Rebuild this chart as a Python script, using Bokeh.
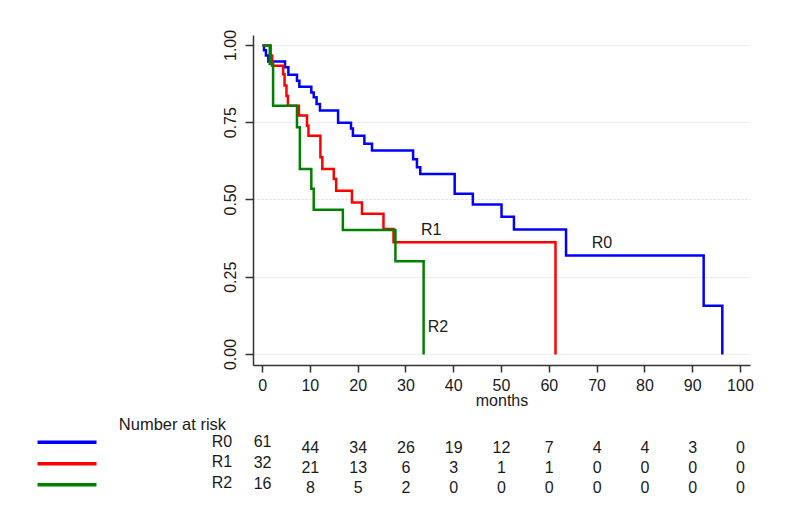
from bokeh.plotting import figure
from bokeh.layouts import column
from bokeh.models import Range1d, FixedTicker, PrintfTickFormatter
from bokeh.core.properties import value
from bokeh.embed import file_html
from bokeh.resources import INLINE

# Kaplan-Meier step curves (time in months, survival probability)
r0_t = [0, 0.3, 0.7, 1.2, 4.7, 5.4, 7.2, 7.7, 10.2, 10.7, 11.3, 12.0, 15.8, 18.5, 18.9,
        21.3, 22.9, 31.5, 32.3, 33.0, 40.2, 44.0, 50.0, 52.6, 63.5, 92.3, 96.2]
r0_s = [1.0, 0.984, 0.967, 0.948, 0.929, 0.905, 0.886, 0.866, 0.848, 0.832, 0.810, 0.789,
        0.750, 0.731, 0.708, 0.682, 0.660, 0.632, 0.606, 0.584, 0.520, 0.485, 0.446, 0.404,
        0.320, 0.158, 0.0]

r1_t = [0, 1.7, 2.0, 4.3, 4.6, 5.0, 5.3, 7.6, 9.3, 9.6, 12.1, 12.5, 14.9, 15.4, 18.7,
        20.8, 25.3, 27.4, 61.3]
r1_s = [1.0, 0.967, 0.934, 0.907, 0.870, 0.836, 0.805, 0.773, 0.740, 0.708, 0.638, 0.600,
        0.568, 0.530, 0.492, 0.455, 0.406, 0.363, 0.0]

r2_t = [0, 1.5, 2.2, 7.2, 7.8, 10.2, 10.7, 16.8, 27.8, 33.7]
r2_s = [1.0, 0.940, 0.805, 0.735, 0.600, 0.536, 0.468, 0.403, 0.302, 0.0]

# curve labels
curve_names = ["R0", "R1", "R2"]
curve_label_x = [71.0, 35.3, 36.7]
curve_label_y = [0.361, 0.403, 0.092]

# axis ticks
x_ticks = [0, 10, 20, 30, 40, 50, 60, 70, 80, 90, 100]
y_ticks = [0.0, 0.25, 0.5, 0.75, 1.0]

# number at risk table
risk_times = [0, 10, 20, 30, 40, 50, 60, 70, 80, 90, 100]
risk_r0 = [61, 44, 34, 26, 19, 12, 7, 4, 4, 3, 0]
risk_r1 = [32, 21, 13, 6, 3, 1, 1, 0, 0, 0, 0]
risk_r2 = [16, 8, 5, 2, 0, 0, 0, 0, 0, 0, 0]

colors = ["#0000ff", "#ff0000", "#008000"]
FONT = "Liberation Sans"
TXT = "#1a1a1a"

# ---- geometry (pixels) ----
W = 784
TOP_H = 412
BOT_H = 97
BL, BR, BT, BB = 253, 34, 35, 47
X0, X1 = -1.9, 102.1
Y0, Y1 = -0.0356, 1.032

p = figure(width=W, height=TOP_H, output_backend="svg", toolbar_location=None,
           x_range=Range1d(X0, X1), y_range=Range1d(Y0, Y1), frame_align=False,
           min_border_left=BL, min_border_right=BR, min_border_top=BT, min_border_bottom=BB)
p.outline_line_color = None

# grid
p.xgrid.grid_line_color = None
p.ygrid.ticker = FixedTicker(ticks=y_ticks)
p.ygrid.grid_line_color = "#cfe0ea"
p.ygrid.grid_line_dash = "2 2"
p.ygrid.grid_line_width = 1

# axes
for ax in (p.xaxis[0], p.yaxis[0]):
    ax.axis_line_color = "#333333"
    ax.axis_line_width = 1.5
    ax.major_tick_line_color = "#333333"
    ax.major_tick_line_width = 1.5
    ax.minor_tick_line_color = None
    ax.major_tick_in = 0
    ax.major_label_text_font = FONT
    ax.major_label_text_font_size = "16px"
    ax.major_label_text_color = TXT

p.xaxis.ticker = FixedTicker(ticks=x_ticks)
p.xaxis.major_tick_out = 7
p.xaxis.major_label_standoff = 6
p.xaxis.axis_label = "months"
p.xaxis.axis_label_text_font = FONT
p.xaxis.axis_label_text_font_size = "16px"
p.xaxis.axis_label_text_font_style = "normal"
p.xaxis.axis_label_text_color = TXT
p.xaxis.axis_label_standoff = -2

p.yaxis.ticker = FixedTicker(ticks=y_ticks)
p.yaxis.formatter = PrintfTickFormatter(format="%.2f")
p.yaxis.major_tick_out = 8
p.yaxis.major_label_orientation = "vertical"
p.yaxis.major_label_standoff = 9

# curves
for t_, s_, c in ((r0_t, r0_s, colors[0]), (r1_t, r1_s, colors[1]), (r2_t, r2_s, colors[2])):
    p.step(t_, s_, mode="after", line_color=c, line_width=2.5, line_join="miter")

p.text(x=curve_label_x, y=curve_label_y, text=curve_names, text_font=value(FONT),
       text_font_size="16px", text_color=TXT, text_align="center", text_baseline="middle")

# ---- number at risk table, full-width frame on the same horizontal scale ----
ppu = (W - BL - BR) / (X1 - X0)          # pixels per month
TX0 = X0 - BL / ppu
TX1 = X1 + BR / ppu


def px(sx):
    """page x (pixels) -> data x on the shared horizontal scale"""
    return TX0 + sx / ppu


def py(sy):
    """page y (pixels) -> y inside the table figure (pixels from its top)"""
    return sy - TOP_H


t = figure(width=W, height=BOT_H, output_backend="svg", toolbar_location=None,
           x_range=Range1d(TX0, TX1), y_range=Range1d(BOT_H, 0), frame_align=False,
           x_axis_location=None, y_axis_location=None,
           min_border_left=0, min_border_right=0, min_border_top=0, min_border_bottom=0)
t.outline_line_color = None
t.xgrid.grid_line_color = None
t.ygrid.grid_line_color = None

t.text(x=[px(118.3)], y=[py(423.0)], text=["Number at risk"], text_font=value(FONT),
       text_font_size="16.5px", text_color=TXT, text_align="left", text_baseline="middle")

row_y_first = [440.7, 461.3, 482.3]
row_y_rest = [446.5, 466.3, 486.3]
swatch_y = [441.7, 463.3, 484.3]
for i, counts in enumerate((risk_r0, risk_r1, risk_r2)):
    t.text(x=[px(231.7)], y=[py(row_y_first[i])], text=[curve_names[i]], text_font=value(FONT),
           text_font_size="16px", text_color=TXT, text_align="right", text_baseline="middle")
    t.text(x=risk_times[:1], y=[py(row_y_first[i])], text=[str(v) for v in counts[:1]],
           text_font=value(FONT), text_font_size="16px", text_color=TXT,
           text_align="center", text_baseline="middle")
    t.text(x=risk_times[1:], y=[py(row_y_rest[i])] * (len(risk_times) - 1),
           text=[str(v) for v in counts[1:]], text_font=value(FONT),
           text_font_size="16px", text_color=TXT, text_align="center", text_baseline="middle")
    t.segment(x0=[px(37.0)], y0=[py(swatch_y[i])], x1=[px(96.0)], y1=[py(swatch_y[i])],
              line_color=colors[i], line_width=3.5)

layout = column(p, t, spacing=0)
open("out.html", "w").write(file_html(layout, INLINE))
